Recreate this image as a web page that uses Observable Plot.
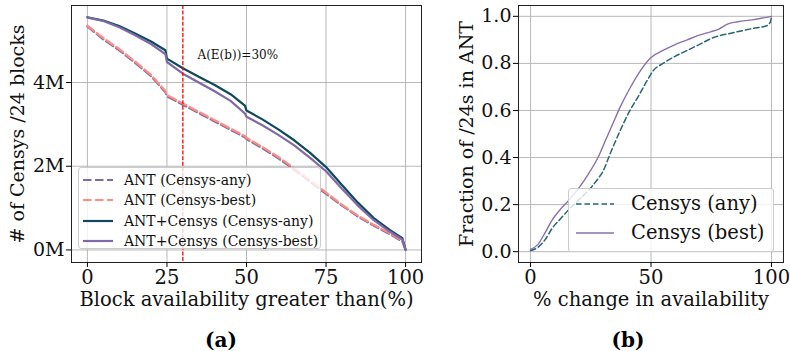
<!DOCTYPE html>
<html>
<head>
<meta charset="utf-8">
<script src="https://cdn.jsdelivr.net/npm/d3@7"></script>
<script src="https://cdn.jsdelivr.net/npm/@observablehq/plot@0.6"></script>
<style>
  body { margin: 0; background: #fff; }
  #wrap { position: relative; width: 790px; height: 351px; font-family: "DejaVu Serif", serif; overflow: hidden; }
  #left, #right { position: absolute; top: 0; }
  #left { left: 0; }
  #right { left: 430px; }
  .cap { position: absolute; font-weight: bold; font-size: 20px; transform: translate(-50%, -50%); white-space: nowrap; }
  .legend { position: absolute; background: rgba(255,255,255,0.8); border: 1px solid #cccccc; border-radius: 3px; box-sizing: border-box; }
  .legend .row { position: absolute; white-space: nowrap; }
  .legend svg { position: absolute; overflow: visible; }
</style>
</head>
<body>
<div id="wrap">
  <div id="left"></div>
  <div id="right"></div>
</div>
<script>
// ---------- Panel (a) data ----------
const availX = [0,5,10,15,20,24.5,25,30,35,40,45,49.5,50,55,60,65,70,75,80,85,90,95,99,100];
const antAny      = [5.34,5.03,4.77,4.47,4.15,3.77,3.67,3.47,3.27,3.07,2.87,2.69,2.65,2.43,2.19,1.92,1.63,1.34,1.06,0.80,0.58,0.38,0.20,0];
const antBest     = [5.36,5.06,4.80,4.50,4.18,3.80,3.70,3.50,3.30,3.10,2.90,2.72,2.68,2.46,2.22,1.95,1.66,1.37,1.08,0.82,0.60,0.40,0.22,0];
const antCensAny  = [5.56,5.48,5.35,5.17,4.98,4.77,4.57,4.34,4.14,3.94,3.72,3.45,3.33,3.12,2.88,2.62,2.32,1.98,1.55,1.13,0.76,0.48,0.28,0];
const antCensBest = [5.55,5.47,5.32,5.13,4.92,4.68,4.49,4.21,4.00,3.79,3.56,3.26,3.18,2.98,2.75,2.50,2.20,1.88,1.46,1.06,0.71,0.44,0.25,0];
const seriesA = ["ANT (Censys-any)","ANT (Censys-best)","ANT+Censys (Censys-any)","ANT+Censys (Censys-best)"];
const colorsA = ["#8069a8","#ff8c80","#0e4a5a","#8069a8"];
const dashA = ["8.5,3.5","8.5,3.5",null,null];
const xTicksA = [0,25,50,75,100];
const yTicksA = [0,2,4];
const threshold = [30];
const annot = [{x:34.6, y:4.65, label:"A(E(b))=30%"}];

// ---------- Panel (b) data ----------
const chgXAny  = [0,3,6,9,12,16,20,24,28,30,33,37,41,45,48,51,55,60,65,70,76,84,92,98,99.5,100];
const fracAny  = [0.005,0.018,0.05,0.10,0.135,0.18,0.22,0.26,0.31,0.34,0.415,0.51,0.595,0.665,0.72,0.77,0.80,0.83,0.855,0.88,0.91,0.93,0.948,0.96,0.975,1.0];
const chgXBest = [0,3,6,9,12,16,20,24,28,31,34,37,41,46,50,55,60,65,70,75,78,82,86,92,100];
const fracBest = [0.01,0.03,0.08,0.135,0.175,0.22,0.27,0.33,0.40,0.47,0.54,0.61,0.69,0.775,0.825,0.855,0.88,0.90,0.92,0.935,0.945,0.968,0.977,0.985,1.0];
const seriesB = ["Censys (any)","Censys (best)"];
const colorsB = ["#2a6473","#8a70b0"];
const xTicksB = [0,50,100];
const yTicksB = [0,0.2,0.4,0.6,0.8,1.0];

const font = "DejaVu Serif";

// ---------- Build panel (a) ----------
const valsA = [antAny, antBest, antCensAny, antCensBest];
const tableA = seriesA.flatMap((s, i) => availX.map((x, j) => ({series: s, x, y: valsA[i][j]})));

const plotA = Plot.plot({
  width: 430, height: 351,
  marginLeft: 71, marginRight: 9, marginTop: 5, marginBottom: 89,
  style: {fontFamily: font, fontSize: "19px", background: "transparent", overflow: "visible"},
  x: {domain: [-5, 105]},
  y: {domain: [-0.3, 5.84]},
  marks: [
    Plot.gridX(xTicksA, {stroke: "#b0b0b0", strokeOpacity: 1, strokeWidth: 0.9}),
    Plot.gridY(yTicksA, {stroke: "#b0b0b0", strokeOpacity: 1, strokeWidth: 0.9}),
    ...seriesA.map((s, i) => Plot.line(tableA.filter(d => d.series === s), {
      x: "x", y: "y", stroke: colorsA[i], strokeWidth: 2.2,
      strokeDasharray: dashA[i] ?? undefined
    })),
    Plot.ruleX(threshold, {stroke: "#ff0000", strokeWidth: 1.3, strokeDasharray: "4,1.6"}),
    Plot.text(annot, {x: "x", y: "y", text: "label", textAnchor: "start", fontSize: 12, fill: "#111"}),
    Plot.frame({stroke: "#222", strokeWidth: 1}),
    Plot.axisX({ticks: xTicksA, tickSize: 5, tickPadding: 3, label: "Block availability greater than(%)",
      labelAnchor: "center", labelOffset: 43, labelArrow: "none", fill: "#111", fontSize: 19.5}),
    Plot.axisY({ticks: yTicksA, tickFormat: d => d + "M", tickSize: 5, tickPadding: 2, label: "# of Censys /24 blocks",
      labelAnchor: "center", labelOffset: 61, labelArrow: "none", fill: "#111"})
  ]
});
document.getElementById("left").appendChild(plotA);

// ---------- Build panel (b) ----------
const tableB = [
  ...chgXAny.map((x, j) => ({series: seriesB[0], x, y: fracAny[j]})),
  ...chgXBest.map((x, j) => ({series: seriesB[1], x, y: fracBest[j]}))
];
const plotB = Plot.plot({
  width: 360, height: 351,
  marginLeft: 88, marginRight: 7, marginTop: 5, marginBottom: 89,
  style: {fontFamily: font, fontSize: "19px", background: "transparent", overflow: "visible"},
  x: {domain: [-5, 105]},
  y: {domain: [-0.046, 1.046]},
  marks: [
    Plot.gridX(xTicksB, {stroke: "#b0b0b0", strokeOpacity: 1, strokeWidth: 0.9}),
    Plot.gridY(yTicksB, {stroke: "#b0b0b0", strokeOpacity: 1, strokeWidth: 0.9}),
    Plot.line(tableB.filter(d => d.series === seriesB[0]), {x: "x", y: "y", stroke: colorsB[0], strokeWidth: 1.5, strokeDasharray: "5.5,3", curve: "monotone-x"}),
    Plot.line(tableB.filter(d => d.series === seriesB[1]), {x: "x", y: "y", stroke: colorsB[1], strokeWidth: 1.4, curve: "monotone-x"}),
    Plot.frame({stroke: "#222", strokeWidth: 1}),
    Plot.axisX({ticks: xTicksB, tickSize: 5, tickPadding: 3, label: "% change in availability",
      labelAnchor: "center", labelOffset: 43, labelArrow: "none", fill: "#111", fontSize: 19.5}),
    Plot.axisY({ticks: yTicksB, tickFormat: d3.format(".1f"), tickSize: 5, tickPadding: 2, label: "Fraction of /24s in ANT",
      labelAnchor: "center", labelOffset: 59, labelArrow: "none", fill: "#111"})
  ]
});
document.getElementById("right").appendChild(plotB);

// ---------- Legends & captions ----------
const wrap = document.getElementById("wrap");
function legend(box, items, fontSize, lineLen, textX) {
  const div = document.createElement("div");
  div.className = "legend";
  Object.assign(div.style, {left: box[0] + "px", top: box[1] + "px", width: box[2] + "px", height: box[3] + "px"});
  items.forEach(it => {
    const ns = "http://www.w3.org/2000/svg";
    const svg = document.createElementNS(ns, "svg");
    svg.setAttribute("width", lineLen); svg.setAttribute("height", 4);
    svg.style.left = it.lx + "px"; svg.style.top = (it.cy - 2) + "px";
    const ln = document.createElementNS(ns, "line");
    ln.setAttribute("x1", 0); ln.setAttribute("x2", lineLen); ln.setAttribute("y1", 2); ln.setAttribute("y2", 2);
    ln.setAttribute("stroke", it.color); ln.setAttribute("stroke-width", it.width);
    if (it.dash) ln.setAttribute("stroke-dasharray", it.dash);
    svg.appendChild(ln); div.appendChild(svg);
    const t = document.createElement("div");
    t.className = "row"; t.textContent = it.label;
    Object.assign(t.style, {left: textX + "px", top: it.cy + "px", fontSize: fontSize + "px", transform: "translateY(-52%)", color: "#111"});
    div.appendChild(t);
  });
  wrap.appendChild(div);
}
legend([78, 167, 243, 82], seriesA.map((s, i) => ({label: s, color: colorsA[i], dash: dashA[i], width: 2.2, lx: 4, cy: [12, 32, 53, 73][i]})), 14, 30, 45);
legend([568, 188, 206, 64], seriesB.map((s, i) => ({label: s, color: colorsB[i], dash: i === 0 ? "5.5,3" : null, width: 1.5, lx: 7, cy: [15, 44][i]})), 19.5, 38, 62);

[["(a)", 221, 340], ["(b)", 628, 340]].forEach(([t, x, y]) => {
  const d = document.createElement("div");
  d.className = "cap"; d.textContent = t;
  d.style.left = x + "px"; d.style.top = y + "px";
  wrap.appendChild(d);
});
</script>
</body>
</html>
